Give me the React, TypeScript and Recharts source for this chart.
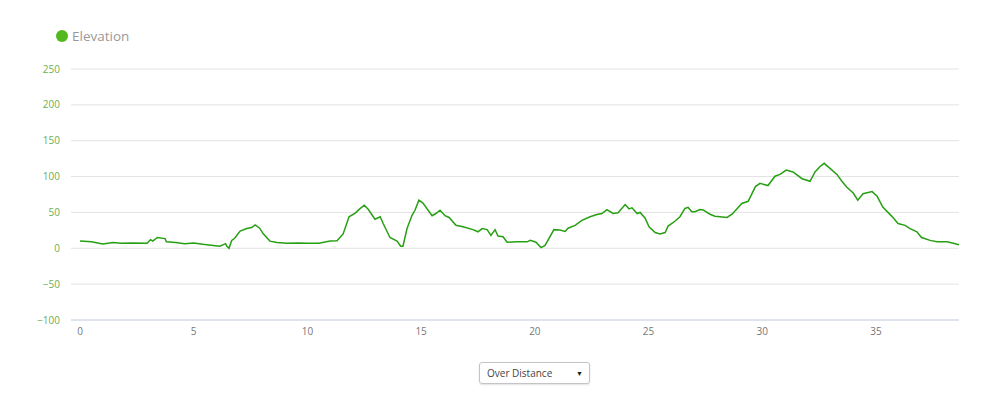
import React from 'react';
import { LineChart, Line, XAxis, YAxis, CartesianGrid } from 'recharts';

// distance (km) and elevation (m)
const distances = [
  0, 0.5, 1.0, 1.45, 1.8, 2.3, 2.95, 3.1, 3.2, 3.4, 3.74, 3.8, 4.2, 4.6, 5.0, 5.4, 5.86, 6.15, 6.4, 6.45,
  6.55, 6.67, 6.8, 7.04, 7.33, 7.55, 7.7, 7.9, 8.05, 8.35, 8.66, 9.1, 9.6, 10.0, 10.5, 11.0, 11.3, 11.57, 11.83, 12.1,
  12.3, 12.5, 12.68, 12.97, 13.2, 13.33, 13.63, 13.94, 14.1, 14.2, 14.38, 14.6, 14.73, 14.9, 15.08, 15.48, 15.65, 15.83, 16.05, 16.23,
  16.53, 16.84, 17.28, 17.5, 17.68, 17.9, 18.07, 18.25, 18.38, 18.6, 18.78, 19.2, 19.66, 19.8, 20.05, 20.27, 20.45, 20.84, 21.1, 21.33,
  21.46, 21.77, 22.07, 22.43, 22.73, 22.95, 23.17, 23.44, 23.66, 23.97, 24.14, 24.27, 24.5, 24.63, 24.85, 25.02, 25.29, 25.5, 25.73, 25.86,
  26.17, 26.38, 26.6, 26.74, 26.9, 27.04, 27.26, 27.4, 27.7, 27.92, 28.14, 28.45, 28.67, 28.9, 29.1, 29.38, 29.7, 29.9, 30.25, 30.56,
  30.78, 31.05, 31.35, 31.75, 32.1, 32.32, 32.54, 32.72, 32.98, 33.28, 33.5, 33.72, 34.0, 34.2, 34.43, 34.83, 35.05, 35.3, 35.7, 35.97,
  36.28, 36.5, 36.8, 37.0, 37.38, 37.68, 38.13, 38.4, 38.65,
];
const elevations = [
  10, 9, 6, 8, 7, 7.5, 7, 12, 10, 15, 13.5, 9, 8, 6.5, 7.5, 5.5, 4, 3, 6.5, 3,
  0, 11, 14, 24, 27.5, 29, 32.5, 28, 20.5, 10, 8, 7, 7.5, 7, 7, 10, 10.5, 20, 44, 49,
  55, 60, 54, 40.5, 44, 34.5, 15, 10, 3, 3, 27.5, 46, 53, 67, 63, 45.5, 48.5, 53, 45.5, 43,
  32, 30, 26, 23, 27.5, 26, 18, 26, 17, 16, 8.5, 9, 9, 11, 8.5, 1, 4, 26, 25.5, 23.5,
  28, 32, 39, 44, 47, 48.5, 54, 48.5, 49.5, 61, 55, 56.5, 48.5, 50, 42, 30, 22, 20, 22, 31,
  38, 44, 55.5, 57, 51, 51, 54, 53.5, 47.5, 44.7, 44, 43, 47.5, 55.5, 62.5, 65.5, 86, 90.5, 87.5, 100.5,
  103, 109, 106.5, 97, 93.5, 106.5, 114, 118.5, 111.5, 103, 93.5, 85, 77, 67, 76, 79, 72.5, 57.5, 44.5, 34.5,
  32, 27.5, 23, 15, 11, 9, 9, 7, 5,
];
const xTicks = [0, 5, 10, 15, 20, 25, 30, 35];
const yTicks = [-100, -50, 0, 50, 100, 150, 200, 250];

const data = distances.map((km, i) => ({ km, elevation: elevations[i] }));

const font = '"Open Sans", sans-serif';

export default function App() {
  return (
    <div style={{ position: 'absolute', left: 0, top: 0, width: 1000, height: 404, background: '#fff', fontFamily: font }}>
      <div style={{ position: 'absolute', left: 56, top: 27, display: 'flex', alignItems: 'center' }}>
        <span style={{ width: 12, height: 12, borderRadius: 6, background: '#52b81e', display: 'inline-block' }} />
        <span style={{ marginLeft: 4, fontSize: 13.5, color: '#999' }}>Elevation</span>
      </div>
      <LineChart width={1000} height={404} data={data} margin={{ top: 69, right: 41, left: 0, bottom: 0 }}>
        <CartesianGrid vertical={false} stroke="#e3e3e3" strokeWidth={1} />
        <XAxis
          dataKey="km"
          type="number"
          domain={[0, 38.65]}
          ticks={xTicks}
          padding={{ left: 9, right: 0 }}
          height={84}
          tickLine={false}
          tickSize={0}
          tickMargin={8}
          axisLine={{ stroke: '#ccd6eb' }}
          tick={{ fontSize: 10, fill: '#777', fontFamily: font }}
        />
        <YAxis
          type="number"
          domain={[-100, 250]}
          ticks={yTicks}
          width={71}
          axisLine={false}
          tickLine={false}
          tickSize={0}
          tickMargin={11}
          tickFormatter={(v: number) => String(v).replace('-', '\u2212')}
          tick={{ fontSize: 10, fill: '#6fae4f', fontFamily: font }}
        />
        <Line
          type="linear"
          dataKey="elevation"
          stroke="#26a012"
          strokeWidth={1.5}
          dot={false}
          isAnimationActive={false}
        />
      </LineChart>
      <div
        style={{
          position: 'absolute',
          left: 479,
          top: 362,
          width: 111,
          height: 22,
          boxSizing: 'border-box',
          border: '1px solid #c4c4c4',
          borderRadius: 3,
          boxShadow: '0 1px 2px rgba(0,0,0,0.12)',
          fontSize: 10,
          color: '#444',
          display: 'flex',
          alignItems: 'center',
          paddingLeft: 7,
        }}
      >
        <span>Over Distance</span>
        <span style={{ position: 'absolute', right: 6, fontSize: 7, color: '#222' }}>▼</span>
      </div>
    </div>
  );
}
